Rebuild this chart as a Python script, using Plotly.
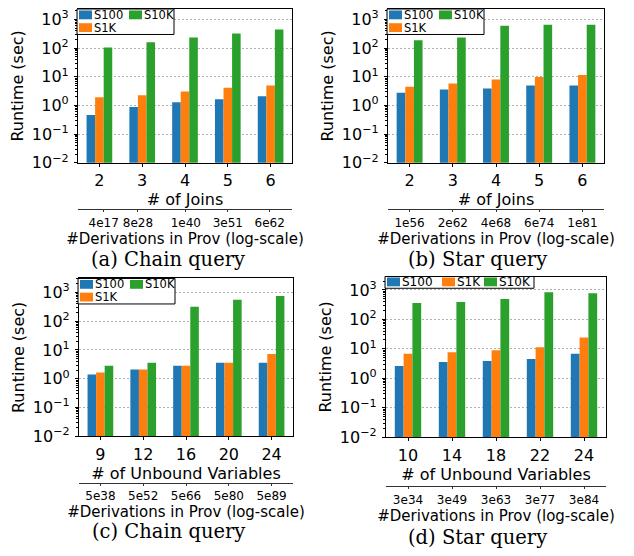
import plotly.graph_objects as go

# ---------------- data ----------------
series = ["S100", "S1K", "S10K"]
colors = ["#1f77b4", "#ff7f0e", "#2ca02c"]

chain_joins = ["2", "3", "4", "5", "6"]
chain_joins_S100 = [0.47, 0.88, 1.3, 1.65, 2.1]
chain_joins_S1K = [1.93, 2.26, 3.1, 4.2, 5.0]
chain_joins_S10K = [105, 160, 235, 325, 445]
chain_joins_derivs = ["4e17", "8e28", "1e40", "3e51", "6e62"]

star_joins = ["2", "3", "4", "5", "6"]
star_joins_S100 = [2.8, 3.6, 3.9, 5.0, 5.0]
star_joins_S1K = [4.5, 5.8, 8.0, 9.8, 11.5]
star_joins_S10K = [187, 235, 610, 660, 660]
star_joins_derivs = ["1e56", "2e62", "4e68", "6e74", "1e81"]

chain_vars = ["9", "12", "16", "20", "24"]
chain_vars_S100 = [1.4, 2.1, 2.86, 3.6, 3.6]
chain_vars_S1K = [1.64, 2.1, 2.86, 3.6, 7.3]
chain_vars_S10K = [2.86, 3.6, 318, 556, 760]
chain_vars_derivs = ["5e38", "5e52", "5e66", "5e80", "5e89"]

star_vars = ["10", "14", "18", "22", "24"]
star_vars_S100 = [2.6, 3.6, 3.9, 4.5, 6.8]
star_vars_S1K = [6.8, 7.7, 9.0, 11.4, 24.5]
star_vars_S10K = [360, 390, 490, 830, 775]
star_vars_derivs = ["3e34", "3e49", "3e63", "3e77", "3e84"]

y_tickvals = [0.01, 0.1, 1, 10, 100, 1000]
y_ticktext = ["10<sup>\u22122</sup>", "10<sup>\u22121</sup>", "10<sup>0</sup>",
              "10<sup>1</sup>", "10<sup>2</sup>", "10<sup>3</sup>"]
y_minor_vals = [m * 10 ** k for k in range(-2, 4) for m in range(2, 10)]

# ---------------- layout geometry ----------------
# the page body adds an 8px margin, so the figure is 8px smaller and all
# screen positions below are converted with OFF
OFF = 8
W, H = 634 - OFF, 556 - OFF
SANS = "DejaVu Sans"
SERIF = "DejaVu Serif"


def px_x(px):
    return (px - OFF) / W


def px_y(py):
    return 1 - (py - OFF) / H


panels = [
    dict(cats=chain_joins, vals=[chain_joins_S100, chain_joins_S1K, chain_joins_S10K],
         derivs=chain_joins_derivs, dpos=[0.1, 0.9, 2.02, 3.0, 3.98],
         xtitle="# of Joins", caption="(a) Chain query",
         box=(78, 292, 5, 165), y3=18.7, dline=212.5, cap=(168, 264), legend="two"),
    dict(cats=star_joins, vals=[star_joins_S100, star_joins_S1K, star_joins_S10K],
         derivs=star_joins_derivs, dpos=[0, 1, 2, 3, 4],
         xtitle="# of Joins", caption="(b) Star query",
         box=(388, 604, 5, 165), y3=18.7, dline=212.5, cap=(477, 264), legend="two"),
    dict(cats=chain_vars, vals=[chain_vars_S100, chain_vars_S1K, chain_vars_S10K],
         derivs=chain_vars_derivs, dpos=[0, 1, 2, 3, 4],
         xtitle="# of Unbound Variables", caption="(c) Chain query",
         box=(79, 293, 283, 444), y3=297.3, dline=491.5, cap=(168, 541.5), legend="two"),
    dict(cats=star_vars, vals=[star_vars_S100, star_vars_S1K, star_vars_S10K],
         derivs=star_vars_derivs, dpos=[0, 1, 2, 3, 4],
         xtitle="# of Unbound Variables", caption="(d) Star query",
         box=(386, 606, 281, 445), y3=294.7, dline=495, cap=(477, 547), legend="one"),
]

fig = go.Figure()
layout = {}
shapes = []
annotations = []

for i, p in enumerate(panels):
    n = i + 1
    xa = "x" if n == 1 else f"x{n}"
    ya = "y" if n == 1 else f"y{n}"
    l, r, t, b = p["box"]
    t = max(t, OFF)
    dom_x = [px_x(l), px_x(r)]
    dom_y = [px_y(b), px_y(t)]
    decade = (b - p["y3"]) / 5.0
    ytop = 3 + (p["y3"] - t) / decade
    for s, name in enumerate(series):
        fig.add_trace(go.Bar(
            x=p["cats"], y=p["vals"][s], name=name, marker_color=colors[s],
            marker_line_width=0, showlegend=False, xaxis=xa, yaxis=ya))
    layout[f"xaxis{'' if n == 1 else n}"] = dict(
        domain=dom_x, anchor=ya, type="category", range=[-0.5, 4.5],
        showline=True, mirror=True, linecolor="black", linewidth=1.2,
        ticks="outside", ticklen=3, tickcolor="black", showgrid=False,
        tickfont=dict(family=SANS, size=16, color="black"),
        title=dict(text=p["xtitle"], font=dict(family=SANS, size=16, color="black"), standoff=2),
    )
    layout[f"yaxis{'' if n == 1 else n}"] = dict(
        domain=dom_y, anchor=xa, type="log", range=[-2, ytop],
        showline=True, mirror=True, linecolor="black", linewidth=1.2,
        tickvals=y_tickvals, ticktext=y_ticktext,
        ticks="outside", ticklen=3, tickwidth=0.8, tickcolor="black", ticklabelstandoff=2,
        minor=dict(tickmode="array", tickvals=y_minor_vals, ticks="outside", ticklen=2,
                   tickwidth=0.6, tickcolor="black", showgrid=False),
        tickfont=dict(family=SANS, size=16, color="black"),
        showgrid=True, gridcolor="#b0b0b0", gridwidth=1.2, griddash="2px,2px",
        zeroline=False,
        title=dict(text="Runtime (sec)", font=dict(family=SANS, size=16, color="black"), standoff=4),
    )
    # derivations axis (secondary x axis below the plot)
    dn = n + 4
    fig.add_trace(go.Scatter(x=p["dpos"], y=[None] * len(p["dpos"]), mode="markers",
                             marker=dict(opacity=0), hoverinfo="skip", showlegend=False,
                             xaxis=f"x{dn}", yaxis=ya))
    layout[f"xaxis{dn}"] = dict(
        overlaying=xa, anchor="free", position=px_y(p["dline"]), side="bottom",
        type="linear", range=[-0.5, 4.5], tickvals=p["dpos"], ticktext=p["derivs"],
        showline=True, linecolor="#333333", linewidth=1.2, showgrid=False, zeroline=False,
        ticks="outside", ticklen=2, tickcolor="#333333",
        tickfont=dict(family=SANS, size=12, color="black"),
        title=dict(text="#Derivations in Prov (log-scale)",
                   font=dict(family=SANS, size=15, color="black"), standoff=2),
    )
    # caption
    annotations.append(dict(
        text=p["caption"], x=px_x(p["cap"][0]), y=px_y(p["cap"][1]), xref="paper", yref="paper",
        xanchor="center", yanchor="middle", showarrow=False,
        font=dict(family=SERIF, size=19.5, color="black")))

    # legend (drawn inside axis domain)
    pw, ph = r - l, b - t
    xd, yd = f"{xa} domain", f"{ya} domain"

    def fx(v, pw=pw):
        return v / pw

    def fy(v, ph=ph):
        return 1 - v / ph

    if p["legend"] == "two":
        bx0, bx1, by0, by1 = -1, 96, 0, 26
        entries = [(0, 1, 6.0), (1, 1, 19.0), (2, 51, 6.0)]  # (series idx, left px, row centre px)
        lfs = 11.5
    else:
        bx0, bx1, by0, by1 = -1, 148, 0, 12
        entries = [(0, 1, 5.5), (1, 56, 5.5), (2, 98, 5.5)]
        lfs = 12
    shapes.append(dict(type="rect", xref=xd, yref=yd, x0=fx(bx0), x1=fx(bx1), y0=fy(by0), y1=fy(by1),
                       line=dict(color="black", width=1), fillcolor="rgba(255,255,255,0.9)", layer="above"))
    for s, lx, cy in entries:
        shapes.append(dict(type="rect", xref=xd, yref=yd, x0=fx(lx), x1=fx(lx + 13),
                           y0=fy(cy + 4.5), y1=fy(cy - 4.5), line=dict(width=0),
                           fillcolor=colors[s], layer="above"))
        annotations.append(dict(text=series[s], xref=xd, yref=yd, x=fx(lx + 14), y=fy(cy),
                                xanchor="left", yanchor="middle", showarrow=False, borderpad=0,
                                font=dict(family=SANS, size=lfs, color="black")))

fig.update_layout(
    width=W, height=H, margin=dict(l=0, r=0, t=0, b=0),
    paper_bgcolor="white", plot_bgcolor="white",
    barmode="group", bargap=0.4, bargroupgap=0,
    showlegend=False, shapes=shapes, annotations=annotations,
    **layout,
)

fig.write_html("out.html")
